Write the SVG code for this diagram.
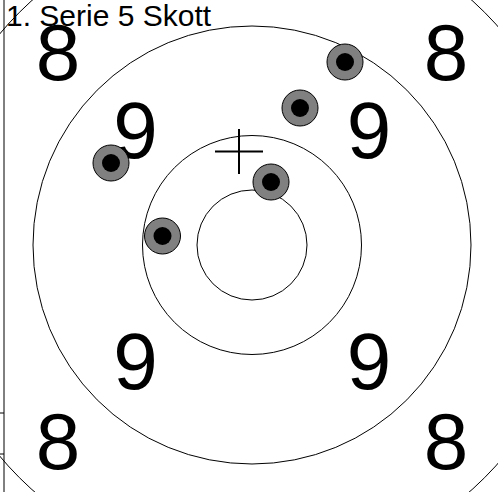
<svg xmlns="http://www.w3.org/2000/svg" width="498" height="492" viewBox="0 0 498 492">
<style>
.ring{fill:none;stroke:#000;stroke-width:1}
.num{font-family:"Liberation Sans",Arial,sans-serif;font-size:80px;fill:#000;text-anchor:middle}
.title{font-family:"Liberation Sans",Arial,sans-serif;font-size:30px;fill:#000}
.shot{fill:#808080;stroke:#000;stroke-width:1}
.core{fill:#000}
.ax{stroke:#000;stroke-width:1;fill:none}
</style>
<rect width="498" height="492" fill="#fff"/>
<g id="target">
<circle class="ring" cx="252" cy="245" r="329"/>
<circle class="ring" cx="252" cy="245" r="219"/>
<circle class="ring" cx="252" cy="245" r="109.5"/>
<circle class="ring" cx="252" cy="245" r="55"/>
</g>
<g id="axis">
<line class="ax" x1="4" y1="0" x2="4" y2="492"/>
<line class="ax" x1="0" y1="413" x2="4" y2="413"/>
<line class="ax" x1="0" y1="454" x2="4" y2="454"/>
</g>
<g id="labels">
<text class="num" x="58" y="80">8</text>
<text class="num" x="446" y="80">8</text>
<text class="num" x="58" y="469">8</text>
<text class="num" x="446" y="469">8</text>
<text class="num" x="135.5" y="158">9</text>
<text class="num" x="369" y="158">9</text>
<text class="num" x="135.5" y="389">9</text>
<text class="num" x="369" y="389">9</text>
</g>
<text id="title" class="title" x="6" y="26">1. Serie 5 Skott</text>
<g id="cross">
<line x1="215" y1="151.5" x2="263" y2="151.5" stroke="#000" stroke-width="2"/>
<line x1="239" y1="129" x2="239" y2="174" stroke="#000" stroke-width="2"/>
</g>
<g id="shots">
<g id="shot1"><circle class="shot" cx="345" cy="62" r="18"/><circle class="core" cx="345" cy="62" r="9"/></g>
<g id="shot2"><circle class="shot" cx="300" cy="108" r="18"/><circle class="core" cx="300" cy="108" r="9"/></g>
<g id="shot3"><circle class="shot" cx="111" cy="163" r="18"/><circle class="core" cx="111" cy="163" r="9"/></g>
<g id="shot4"><circle class="shot" cx="271" cy="182" r="18"/><circle class="core" cx="271" cy="182" r="9"/></g>
<g id="shot5"><circle class="shot" cx="162.5" cy="236" r="18"/><circle class="core" cx="162.5" cy="236" r="9"/></g>
</g>
</svg>
